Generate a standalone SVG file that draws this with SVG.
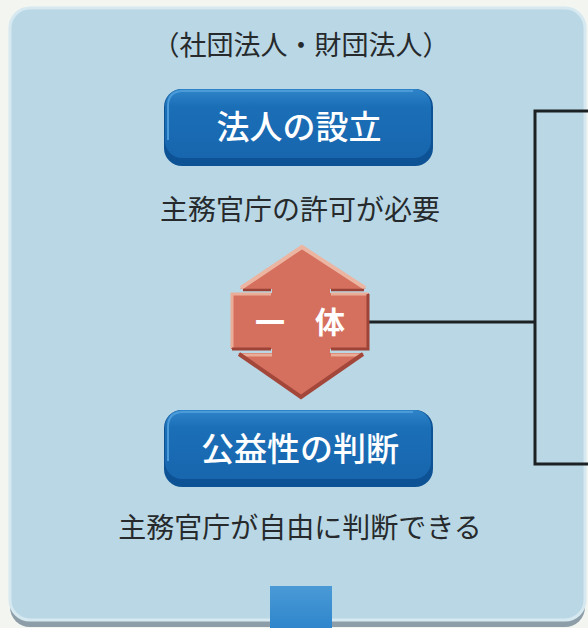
<svg xmlns="http://www.w3.org/2000/svg" width="588" height="628" viewBox="0 0 588 628">
  <defs>
    <linearGradient id="btnFace" x1="0" y1="0" x2="0" y2="1">
      <stop offset="0" stop-color="#2f84c9"/>
      <stop offset="0.25" stop-color="#1b6fb7"/>
      <stop offset="1" stop-color="#1766ae"/>
    </linearGradient>
    <linearGradient id="sq" x1="0" y1="0" x2="0" y2="1">
      <stop offset="0" stop-color="#4a9ad6"/>
      <stop offset="1" stop-color="#2f86cc"/>
    </linearGradient>
    <style>
      .dark { font-family: "Noto Sans CJK JP", "Noto Sans", sans-serif; fill: #262a2c; text-anchor: middle; }
      .btntxt { font-family: "Noto Sans CJK JP", "Noto Sans", sans-serif; fill: #ffffff; text-anchor: middle; font-size: 33px; font-weight: 500; }
      .btnbase { fill: #0d5294; }
      .btnface { fill: url(#btnFace); }
      .btnhi { fill: none; stroke: #4a9bd8; stroke-width: 2; }
      .line { fill: none; stroke: #1c2124; stroke-width: 3; }
    </style>
  </defs>

  <!-- background -->
  <rect x="0" y="0" width="588" height="628" fill="#f3f5f1"/>
  <!-- panel shadow -->
  <rect x="10" y="14" width="575" height="613" rx="20" fill="#8d9ea8"/>
  <!-- panel -->
  <rect x="10" y="8" width="575" height="612" rx="20" fill="#bad7e5" stroke="#d6e8f0" stroke-width="3"/>

  <g id="connectors">
    <polyline class="line" points="588,111 535,111 535,464 588,464"/>
    <line class="line" x1="368" y1="322" x2="535" y2="322"/>
  </g>

  <g id="heading">
    <text class="dark" x="301" y="55" font-size="27">（社団法人・財団法人）</text>
  </g>

  <g id="node-setsuritsu">
    <rect class="btnbase" x="164" y="89" width="269" height="77" rx="18"/>
    <rect class="btnface" x="165" y="89" width="266" height="69" rx="17"/>
    <path class="btnhi" d="M168,140 L168,106 Q168,91 183,91 L413,91"/>
    <text class="btntxt" x="299" y="139">法人の設立</text>
  </g>

  <g id="sub-kyoka">
    <text class="dark" x="300" y="220" font-size="28">主務官庁の許可が必要</text>
  </g>

  <g id="node-ittai">
    <polygon points="302,246 366,289 330,289 330,293 369,293 369,349 330,349 330,353 364,353 301,398 238,353 272,353 272,349 231,349 231,293 272,293 272,289 240,289" fill="#d5705f"/>
    <!-- light bevels -->
    <polyline points="241,288 302,247 365,288" fill="none" stroke="#ebb5a2" stroke-width="4"/>
    <polyline points="232,348 232,294 271,294" fill="none" stroke="#e9ad98" stroke-width="3"/>
    <line x1="331" y1="294" x2="368" y2="294" stroke="#e9ad98" stroke-width="3"/>
    <line x1="240" y1="355" x2="272" y2="355" stroke="#e9ad98" stroke-width="3"/>
    <line x1="331" y1="355" x2="362" y2="355" stroke="#e9ad98" stroke-width="3"/>
    <!-- dark bevels -->
    <line x1="243" y1="290" x2="271" y2="290" stroke="#9a4136" stroke-width="2.5"/>
    <line x1="331" y1="290" x2="364" y2="290" stroke="#9a4136" stroke-width="2.5"/>
    <polyline points="331,349 368,349 368,294" fill="none" stroke="#9e4337" stroke-width="3"/>
    <line x1="232" y1="349" x2="271" y2="349" stroke="#9e4337" stroke-width="3"/>
    <polyline points="239,354 301,397 363,354" fill="none" stroke="#a4473b" stroke-width="4"/>
    <text x="300" y="333" font-family="Noto Sans CJK JP, Noto Sans, sans-serif" font-size="30" font-weight="bold" fill="#ffffff" text-anchor="middle">一　体</text>
  </g>

  <g id="node-koueki">
    <rect class="btnbase" x="164" y="410" width="269" height="77" rx="18"/>
    <rect class="btnface" x="165" y="410" width="266" height="69" rx="17"/>
    <path class="btnhi" d="M168,461 L168,427 Q168,412 183,412 L413,412"/>
    <text class="btntxt" x="300" y="461">公益性の判断</text>
  </g>

  <g id="sub-jiyu">
    <text class="dark" x="300" y="538" font-size="28">主務官庁が自由に判断できる</text>
  </g>

  <g id="node-bottom">
    <rect x="270" y="586" width="62" height="42" fill="url(#sq)"/>
  </g>
</svg>
